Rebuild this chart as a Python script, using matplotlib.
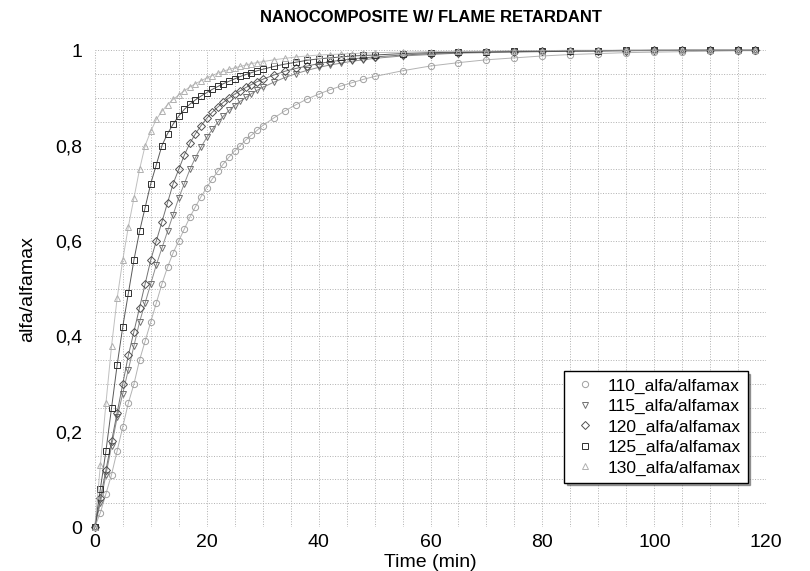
import matplotlib
matplotlib.use('Agg')
import matplotlib.pyplot as plt
from matplotlib.ticker import MultipleLocator, FuncFormatter

plt.rcParams['font.family'] = ['Liberation Sans', 'DejaVu Sans']

# tempo (min)
tempo = list(range(0, 31)) + list(range(32, 51, 2)) + list(range(55, 116, 5)) + [118]

a130 = [0, .13, .26, .38, .48, .56, .63, .69, .75, .80, .83, .855, .872, .886, .897, .906,
        .915, .923, .93, .936, .942, .947, .952, .956, .96, .963, .966, .969, .972, .974, .976,
        .98, .983, .986, .988, .99, .991, .992, .993, .994, .995,
        .996, .997, .998, .998, .999, .999, 1, 1, 1, 1, 1, 1, 1, 1]
a125 = [0, .08, .16, .25, .34, .42, .49, .56, .62, .67, .72, .76, .80, .825, .845, .862,
        .876, .887, .896, .904, .911, .918, .924, .93, .935, .94, .945, .949, .953, .957, .96,
        .966, .971, .975, .979, .982, .984, .986, .988, .989, .99,
        .993, .995, .996, .997, .998, .998, .999, .999, 1, 1, 1, 1, 1, 1]
a120 = [0, .06, .12, .18, .24, .30, .36, .41, .46, .51, .56, .60, .64, .68, .72, .75,
        .78, .805, .825, .842, .857, .87, .881, .891, .90, .908, .915, .922, .928, .934, .939,
        .948, .956, .962, .967, .972, .976, .979, .982, .984, .986,
        .99, .993, .995, .996, .997, .998, .998, .999, .999, 1, 1, 1, 1, 1]
a115 = [0, .05, .11, .17, .23, .28, .33, .38, .43, .47, .51, .55, .585, .62, .655, .69,
        .72, .75, .775, .797, .817, .834, .849, .862, .874, .884, .893, .901, .909, .916, .922,
        .933, .943, .951, .958, .964, .969, .973, .977, .98, .983,
        .988, .991, .994, .995, .996, .997, .998, .998, .999, .999, 1, 1, 1, 1]
a110 = [0, .03, .07, .11, .16, .21, .26, .30, .35, .39, .43, .47, .51, .545, .575, .60,
        .625, .65, .672, .693, .712, .73, .746, .762, .776, .789, .80, .812, .822, .832, .842,
        .858, .873, .886, .898, .908, .917, .925, .932, .939, .945,
        .957, .967, .974, .98, .984, .988, .991, .993, .995, .996, .997, .998, .999, .999]

series = [('110_alfa/alfamax', a110, 'o', '#a0a0a0'),
          ('115_alfa/alfamax', a115, 'v', '#707070'),
          ('120_alfa/alfamax', a120, 'D', '#505050'),
          ('125_alfa/alfamax', a125, 's', '#303030'),
          ('130_alfa/alfamax', a130, '^', '#b0b0b0')]

fig = plt.figure(figsize=(8.1, 5.71), dpi=100)
ax = fig.add_axes([0.117, 0.077, 0.829, 0.835])

for nome, vals, mk, cor in series:
    ax.plot(tempo, vals, '-', color=cor, lw=0.7, alpha=0.8, clip_on=False)
    ax.plot(tempo, vals, mk, color=cor, mfc='none', ms=4.5, mew=0.7, ls='none',
            label=nome, clip_on=False)

ax.set_xlim(0, 120)
ax.set_ylim(0, 1)
ax.xaxis.set_major_locator(MultipleLocator(20))
ax.yaxis.set_major_locator(MultipleLocator(0.2))
ax.xaxis.set_minor_locator(MultipleLocator(5))
ax.yaxis.set_minor_locator(MultipleLocator(0.05))
ax.yaxis.set_major_formatter(FuncFormatter(lambda v, p: ('%g' % round(v, 1)).replace('.', ',')))
ax.grid(True, which='both', ls=':', color='#b0b0b0', lw=0.7)
ax.tick_params(which='both', length=0, labelsize=14)
ax.tick_params(axis='x', pad=5)
ax.tick_params(axis='y', pad=9)
for s in ax.spines.values():
    s.set_visible(False)

ax.set_xlabel('Time (min)', fontsize=14, labelpad=2)
ax.set_ylabel('alfa/alfamax', fontsize=14, labelpad=14)
ax.set_title('NANOCOMPOSITE W/ FLAME RETARDANT', fontsize=12, fontweight='bold', pad=20)

leg = ax.legend(loc='lower right', bbox_to_anchor=(0.985, 0.075), fontsize=12.5,
                frameon=True, fancybox=False, shadow=True, handletextpad=0.5,
                handlelength=1.6, labelspacing=0.3, borderpad=0.4)
leg.get_frame().set_edgecolor('black')
leg.get_frame().set_linewidth(1.0)

fig.savefig('out.png', dpi=100)
